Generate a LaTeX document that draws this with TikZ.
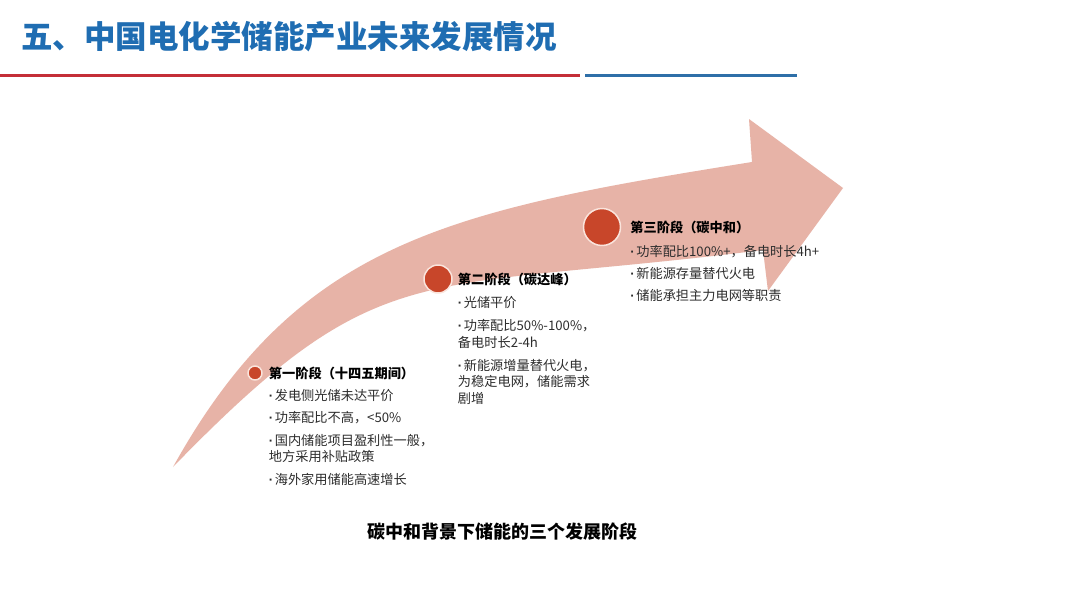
\documentclass[tikz,border=0pt]{standalone}
\usepackage{fontspec}
\setmainfont{Noto Sans CJK SC}
\newfontfamily\dotfont{Liberation Sans}
\usetikzlibrary{positioning}
\definecolor{titleblue}{RGB}{31,109,178}
\definecolor{linered}{RGB}{196,46,56}
\definecolor{lineblue}{RGB}{46,111,168}
\definecolor{arrowpink}{RGB}{231,179,167}
\definecolor{dotred}{RGB}{200,70,42}
\definecolor{dotring}{RGB}{250,228,220}
\definecolor{textgray}{RGB}{45,45,45}
\newcommand\bdot{{\dotfont\bfseries ·}\hspace{1.5pt}}
\begin{document}
\begin{tikzpicture}[x=1pt,y=-1pt,line join=round,line cap=round,
	stagedot/.style={circle,fill=dotred,draw=dotring,line width=1.5pt,minimum size=#1,inner sep=0pt},
	stagetitle/.style={font=\fontsize{13.2}{15}\selectfont\bfseries,inner sep=0pt},
	stagelist/.style={font=\fontsize{13.2}{16.5}\selectfont,text=textgray,align=left,inner sep=0pt}]
	\fill[white] (0,0) rectangle (1080,608);
	\useasboundingbox (0,0) rectangle (1080,608);
	\node[font=\fontsize{31.5}{34}\selectfont\bfseries,text=titleblue,anchor=west,inner sep=0pt] (head) at (21,37) {五、中国电化学储能产业未来发展情况};
	\draw[linered,line width=3pt,line cap=butt] (0,75)--(580,75);
	\draw[lineblue,line width=3pt,line cap=butt] (585,75)--(797,75);
	\fill[arrowpink] (173,467) .. controls (299,240) and (452,210) .. (752,162) -- (749,119) -- (843,188) -- (768,291) -- (763,250) .. controls (413,294) and (382,252) .. (173,467) -- cycle;
	\node[stagedot=14pt] (s1) at (255,373) {};
	\node[stagedot=28pt] (s2) at (438,279) {};
	\node[stagedot=37pt] (s3) at (602,227) {};
	\node[stagetitle,right=6pt of s1] (t1) {第一阶段（十四五期间）};
	\node[stagetitle,right=5pt of s2] (t2) {第二阶段（碳达峰）};
	\node[stagetitle,right=9pt of s3] (t3) {第三阶段（碳中和）};
	\node[stagelist,below=9.5pt of t1.south west,anchor=north west] (l1) {\bdot 发电侧光储未达平价\\[6pt]\bdot 功率配比不高，<50\%\\[6pt]\bdot 国内储能项目盈利性一般，\\地方采用补贴政策\\[6pt]\bdot 海外家用储能高速增长};
	\node[stagelist,below=11pt of t2.south west,anchor=north west] (l2) {\bdot 光储平价\\[6.5pt]\bdot 功率配比50\%-100\%，\\备电时长2-4h\\[6.5pt]\bdot 新能源增量替代火电，\\为稳定电网，储能需求\\剧增};
	\node[stagelist,below=11pt of t3.south west,anchor=north west] (l3) {\bdot 功率配比100\%+，备电时长4h+\\[5.5pt]\bdot 新能源存量替代火电\\[5.5pt]\bdot 储能承担主力电网等职责};
	\node[font=\fontsize{18}{20}\selectfont\bfseries] (cap) at (502,532) {碳中和背景下储能的三个发展阶段};
\end{tikzpicture}
\end{document}
